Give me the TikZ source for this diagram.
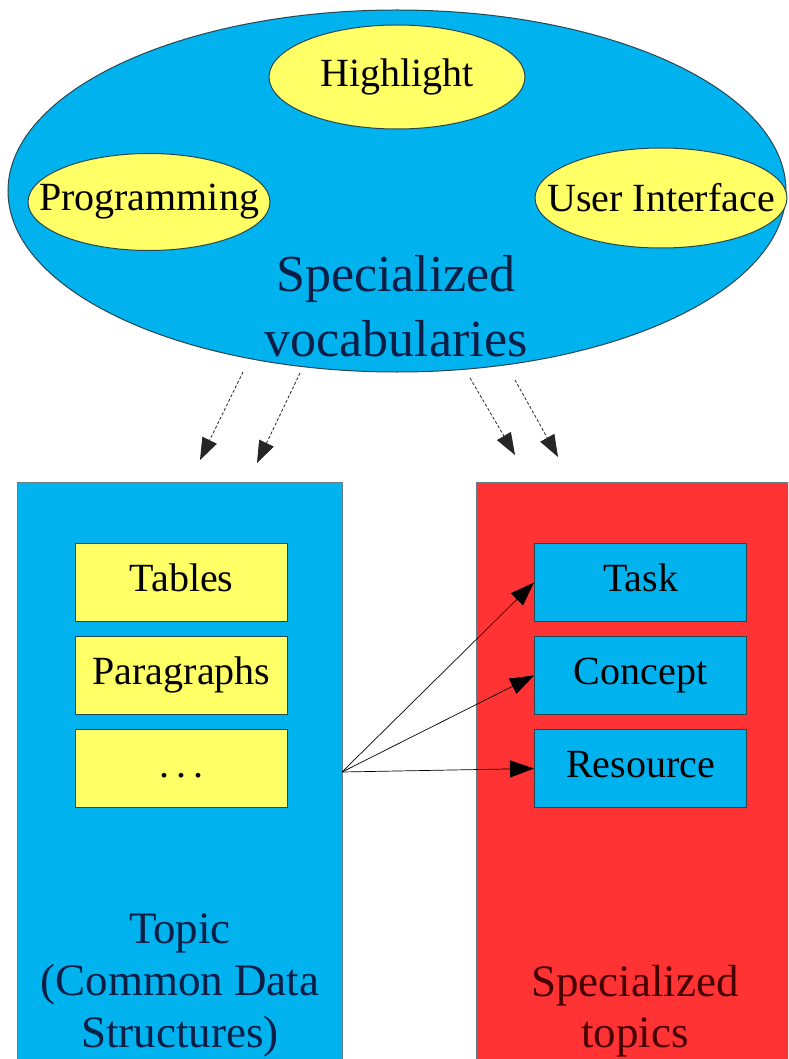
\documentclass[tikz,border=0pt]{standalone}
\usepackage{fontspec}
\setmainfont{Liberation Serif}
\usetikzlibrary{positioning,shapes.geometric,arrows.meta}
\definecolor{vocblue}{RGB}{0,178,238}
\definecolor{itemyellow}{RGB}{255,255,102}
\definecolor{topicred}{RGB}{255,51,51}
\definecolor{edgegray}{RGB}{40,70,80}
\definecolor{navy}{RGB}{10,30,70}
\definecolor{darkred}{RGB}{70,0,0}
\begin{document}
\begin{tikzpicture}[x=1pt,y=-1pt,
		vocab/.style={draw=edgegray, line width=1pt, fill=itemyellow, ellipse, inner sep=0pt,
			label={[font=\fontsize{40}{48}\selectfont]center:#1}},
		item/.style={draw=edgegray, line width=1pt, minimum width=212pt, minimum height=78pt,
			inner sep=0pt, text height=27pt, text depth=9pt, font=\fontsize{40}{48}\selectfont},
		area/.style={draw=edgegray!70, line width=0.8pt, anchor=north west, inner sep=0pt,
			minimum height=600pt},
		title/.style={inner sep=0pt, align=center},
		solidarrow/.style={-{Triangle[length=24pt,width=17pt]}, line width=0.7pt, black},
		dashedarrow/.style={-{Triangle[length=22pt,width=16pt]}, dash pattern=on 3pt off 2pt,
			line width=0.8pt, black!85}]
	\path[use as bounding box, clip] (0,0) rectangle (788,1059);
	\node (voc) [ellipse, draw=edgegray, line width=1pt, fill=vocblue, minimum width=778pt, minimum height=362pt] at (397,191) {};
	\node (hl) [vocab=Highlight, minimum width=256pt, minimum height=104pt] at (397,77) {};
	\node (prog) [vocab=Programming, minimum width=242pt, minimum height=97pt] at (149,202) {};
	\node (ui) [vocab=User Interface, minimum width=252pt, minimum height=100pt] at (661,198) {};
	\node (voclabel) [title, text=navy, font=\fontsize{52}{65}\selectfont] at (396,306) {Specialized\\vocabularies};
	\node (topic) [area, fill=vocblue, minimum width=325pt] at (17,482) {};
	\node (spec) [area, fill=topicred, minimum width=330pt] at (476,482) {};
	\node (tab) [item, fill=itemyellow] at (181.5,582.5) {Tables};
	\node (par) [item, fill=itemyellow, below=14pt of tab] {Paragraphs};
	\node (etc) [item, fill=itemyellow, below=14pt of par] {.\kern7pt.\kern7pt.};
	\node (task) [item, fill=vocblue] at (640.5,582.5) {Task};
	\node (concept) [item, fill=vocblue, below=14pt of task] {Concept};
	\node (res) [item, fill=vocblue, below=14pt of concept] {Resource};
	\node (topiclabel) [title, text=navy, font=\fontsize{45}{52}\selectfont] at (180,985) {Topic\\(Common Data\\Structures)};
	\node (speclabel) [title, text=darkred, font=\fontsize{45}{51}\selectfont] at (635,1011) {Specialized\\topics};
	\coordinate (src) at (342,772);
	\draw[solidarrow] (src) -- (task.west);
	\draw[solidarrow] (src) -- (concept.west);
	\draw[solidarrow] (src) -- (res.west);
	\coordinate (d1) at (243,372);
	\coordinate (d2) at (300,373);
	\coordinate (d3) at (470,378);
	\coordinate (d4) at (515,380);
	\coordinate (e1) at (200,460);
	\coordinate (e2) at (257,463);
	\coordinate (e3) at (515,455);
	\coordinate (e4) at (558,457);
	\draw[dashedarrow] (d1) -- (e1);
	\draw[dashedarrow] (d2) -- (e2);
	\draw[dashedarrow] (d3) -- (e3);
	\draw[dashedarrow] (d4) -- (e4);
\end{tikzpicture}
\end{document}
